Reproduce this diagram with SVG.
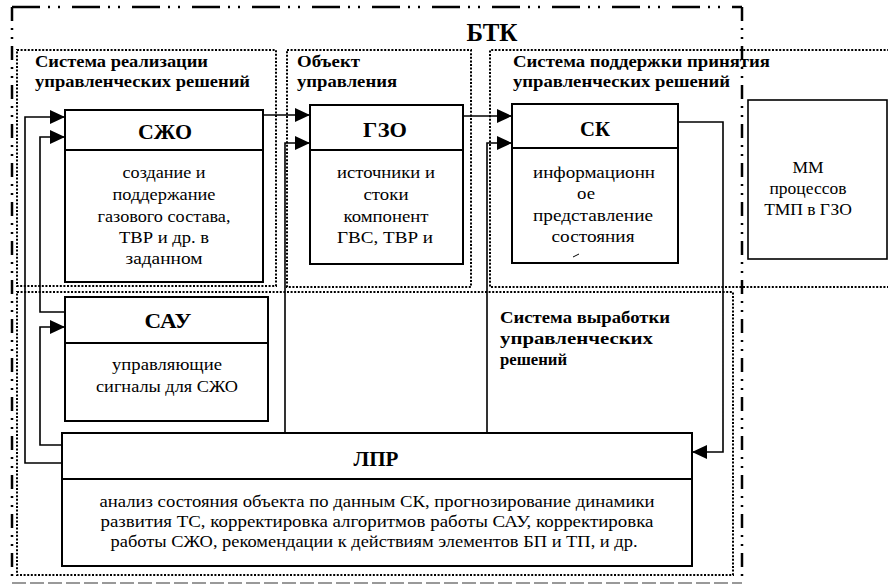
<svg xmlns="http://www.w3.org/2000/svg" width="888" height="586" viewBox="0 0 888 586">
<defs>
<style>
.box{fill:#fff;stroke:#000;stroke-width:2}
.dot{fill:none;stroke:#000;stroke-width:2;stroke-dasharray:2 1.6}
.con{fill:none;stroke:#000;stroke-width:1.6}
text{font-family:'Liberation Serif','DejaVu Serif',serif;fill:#000}
.t{font-size:17.5px;text-anchor:middle}
.h{font-size:21px;font-weight:bold;text-anchor:middle}
.s{font-size:16px;font-weight:bold}
</style>
<marker id="arr" markerUnits="userSpaceOnUse" markerWidth="16" markerHeight="16" refX="15" refY="7" orient="auto">
<path d="M0,0 L15,7 L0,14 z" fill="#000"/>
</marker>
</defs>
<rect width="888" height="586" fill="#fff"/>

<g id="btk-frame">
<line x1="12" y1="7" x2="742" y2="7" stroke="#000" stroke-width="2.5" stroke-dasharray="28 8 2 8 2 12"/>
<line x1="12" y1="7" x2="12" y2="583" stroke="#000" stroke-width="2.5" stroke-dasharray="14 7 2 7 2 7"/>
<line x1="742" y1="7" x2="742" y2="583" stroke="#000" stroke-width="2.5" stroke-dasharray="14 7 2 7 2 7"/>
<line x1="12" y1="583" x2="742" y2="583" stroke="#999" stroke-width="2" stroke-dasharray="14 4"/>
<text x="492" y="41" class="h" style="font-size:25px" textLength="51" lengthAdjust="spacingAndGlyphs">БТК</text>
</g>

<g id="zone-realization">
<rect x="17" y="50" width="259" height="236" class="dot"/>
<text x="35" y="67" class="s" textLength="173" lengthAdjust="spacingAndGlyphs">Система реализации</text>
<text x="35" y="87" class="s" textLength="215" lengthAdjust="spacingAndGlyphs">управленческих решений</text>
</g>
<g id="zone-object">
<rect x="287" y="50" width="184" height="237" class="dot"/>
<text x="297" y="67" class="s" textLength="63" lengthAdjust="spacingAndGlyphs">Объект</text>
<text x="297" y="87" class="s" textLength="100" lengthAdjust="spacingAndGlyphs">управления</text>
</g>
<g id="zone-support">
<path d="M900,50 L490,50 L490,287 L900,287" class="dot"/>
<text x="513" y="67" class="s" textLength="257" lengthAdjust="spacingAndGlyphs">Система поддержки принятия</text>
<text x="513" y="87" class="s" textLength="217" lengthAdjust="spacingAndGlyphs">управленческих решений</text>
</g>
<g id="zone-decision">
<rect x="17" y="292" width="716" height="283" class="dot"/>
<text x="500" y="323" class="s" textLength="170" lengthAdjust="spacingAndGlyphs">Система выработки</text>
<text x="500" y="344" class="s" textLength="153" lengthAdjust="spacingAndGlyphs">управленческих</text>
<text x="500" y="365" class="s" textLength="67" lengthAdjust="spacingAndGlyphs">решений</text>
</g>

<g id="node-szho">
<rect x="65" y="110" width="198" height="172" class="box"/>
<line x1="65" y1="150" x2="263" y2="150" stroke="#000" stroke-width="2"/>
<text x="165" y="139" class="h" textLength="54" lengthAdjust="spacingAndGlyphs">СЖО</text>
<text x="164" y="178" class="t" textLength="83" lengthAdjust="spacingAndGlyphs">создание и</text>
<text x="164" y="200" class="t" textLength="103" lengthAdjust="spacingAndGlyphs">поддержание</text>
<text x="164" y="222" class="t" textLength="133" lengthAdjust="spacingAndGlyphs">газового состава,</text>
<text x="164" y="243" class="t" textLength="90" lengthAdjust="spacingAndGlyphs">ТВР и др. в</text>
<text x="164" y="264" class="t" textLength="77" lengthAdjust="spacingAndGlyphs">заданном</text>
</g>

<g id="node-gzo">
<rect x="310" y="105" width="153" height="159" class="box"/>
<line x1="310" y1="150" x2="463" y2="150" stroke="#000" stroke-width="2"/>
<text x="385" y="137" class="h" textLength="44" lengthAdjust="spacingAndGlyphs">ГЗО</text>
<text x="386" y="178" class="t" textLength="98" lengthAdjust="spacingAndGlyphs">источники и</text>
<text x="386" y="200" class="t" textLength="45" lengthAdjust="spacingAndGlyphs">стоки</text>
<text x="386" y="222" class="t" textLength="85" lengthAdjust="spacingAndGlyphs">компонент</text>
<text x="385" y="243" class="t" textLength="96" lengthAdjust="spacingAndGlyphs">ГВС, ТВР и</text>
</g>

<g id="node-sk">
<rect x="512" y="104" width="166" height="159" class="box"/>
<line x1="512" y1="148" x2="678" y2="148" stroke="#000" stroke-width="2"/>
<text x="595" y="136" class="h" textLength="30" lengthAdjust="spacingAndGlyphs">СК</text>
<text x="594" y="178" class="t" textLength="122" lengthAdjust="spacingAndGlyphs">информационн</text>
<text x="586" y="199" class="t" textLength="18" lengthAdjust="spacingAndGlyphs">ое</text>
<text x="593" y="221" class="t" textLength="120" lengthAdjust="spacingAndGlyphs">представление</text>
<text x="593" y="242" class="t" textLength="83" lengthAdjust="spacingAndGlyphs">состояния</text>
<line x1="573" y1="257" x2="579" y2="254" stroke="#000" stroke-width="1"/>
</g>

<g id="node-mm">
<rect x="748" y="100" width="139" height="159" class="box" style="stroke-width:1.6"/>
<text x="808" y="173" class="t">ММ</text>
<text x="808" y="194" class="t">процессов</text>
<text x="808" y="215" class="t">ТМП в ГЗО</text>
</g>

<g id="node-sau">
<rect x="65" y="297" width="203" height="124" class="box"/>
<line x1="65" y1="343" x2="268" y2="343" stroke="#000" stroke-width="2"/>
<text x="168" y="328" class="h" textLength="47" lengthAdjust="spacingAndGlyphs">САУ</text>
<text x="167" y="370" class="t" textLength="110" lengthAdjust="spacingAndGlyphs">управляющие</text>
<text x="167" y="392" class="t" textLength="142" lengthAdjust="spacingAndGlyphs">сигналы для СЖО</text>
</g>

<g id="node-lpr">
<rect x="62" y="433" width="630" height="133" class="box"/>
<line x1="62" y1="479" x2="692" y2="479" stroke="#000" stroke-width="2"/>
<text x="376" y="466" class="h" textLength="45" lengthAdjust="spacingAndGlyphs">ЛПР</text>
<text x="377" y="507" class="t" textLength="555" lengthAdjust="spacingAndGlyphs">анализ состояния объекта по данным СК, прогнозирование динамики</text>
<text x="377" y="527" class="t" textLength="553" lengthAdjust="spacingAndGlyphs">развития ТС, корректировка алгоритмов работы САУ, корректировка</text>
<text x="374" y="547" class="t" textLength="527" lengthAdjust="spacingAndGlyphs">работы СЖО, рекомендации к действиям элементов БП и ТП, и др.</text>
</g>

<g id="connectors">
<polyline points="62,463 25,463 25,117 65,117" class="con" marker-end="url(#arr)"/>
<polyline points="65,312 40,312 40,137 65,137" class="con" marker-end="url(#arr)"/>
<polyline points="62,445 40,445 40,327 65,327" class="con" marker-end="url(#arr)"/>
<polyline points="263,115 310,115" class="con" marker-end="url(#arr)"/>
<polyline points="285,433 285,143 310,143" class="con" marker-end="url(#arr)"/>
<polyline points="463,116 512,116" class="con" marker-end="url(#arr)"/>
<polyline points="487,433 487,143 512,143" class="con" marker-end="url(#arr)"/>
<polyline points="678,122 723,122 723,452 692,452" class="con" marker-end="url(#arr)"/>
</g>
</svg>
